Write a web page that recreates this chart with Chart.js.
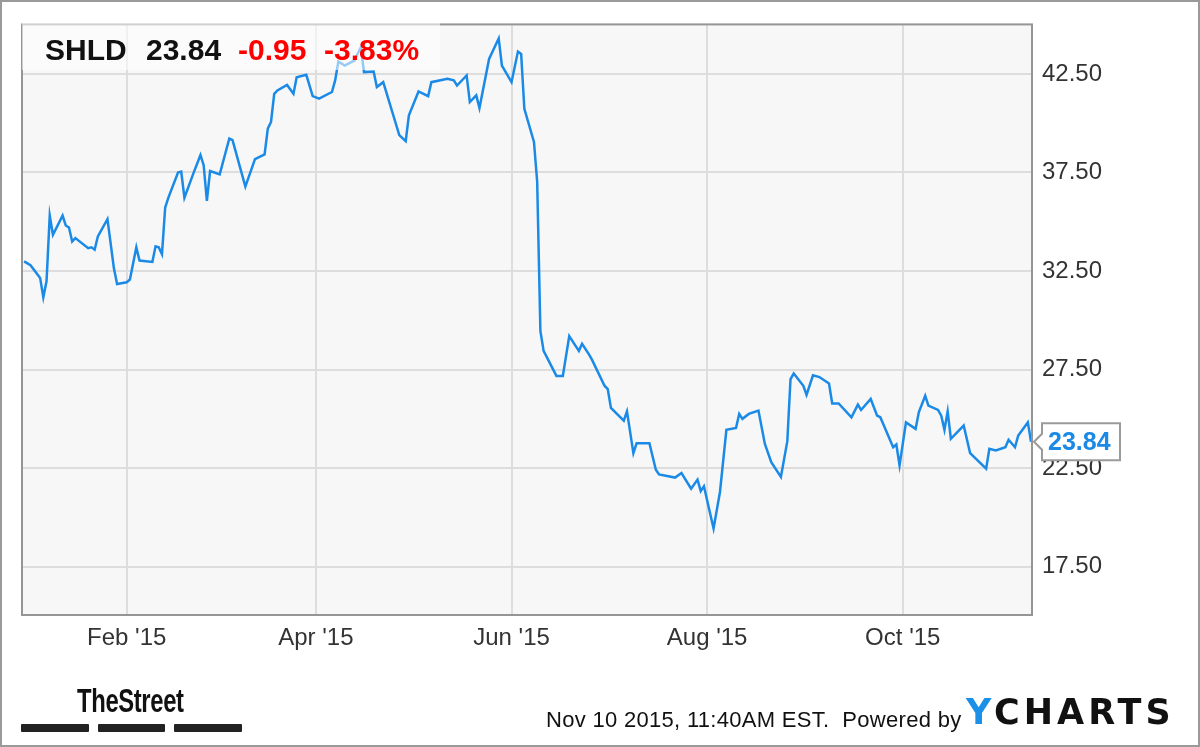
<!DOCTYPE html>
<html>
<head>
<meta charset="utf-8">
<script src="https://cdn.jsdelivr.net/npm/chart.js@4.4.0/dist/chart.umd.min.js"></script>
<style>
html,body{margin:0;padding:0;background:#fff;}
#wrap{position:relative;width:1200px;height:747px;overflow:hidden;font-family:"Liberation Sans",Arial,sans-serif;background:#fff;}
#c{position:absolute;left:0;top:0;}
.t{position:absolute;white-space:nowrap;}
.hdr{top:35px;font-size:30px;line-height:30px;font-weight:bold;color:#111;}
.red{color:#ff0000;}
#hdrbox{position:absolute;left:22px;top:22px;width:418px;height:48px;background:rgba(255,255,255,0.55);}
#frame{position:absolute;left:0;top:0;width:1200px;height:747px;box-sizing:border-box;border:2px solid #9a9a9a;}
#street{left:77px;top:683px;font-size:34px;line-height:34px;font-weight:bold;color:#111;transform:scaleX(0.7);transform-origin:0 0;letter-spacing:-0.5px;}
.bar{position:absolute;top:724px;height:8px;background:#222;border-radius:1px;}
#stamp{left:546px;top:709px;font-size:22px;line-height:22px;color:#111;letter-spacing:0.3px;}
#ych{left:966px;top:695px;font-family:"DejaVu Sans",sans-serif;font-size:35px;line-height:35px;font-weight:bold;color:#111;letter-spacing:4px;}
#ych span{color:#1c8fe8;}
</style>
</head>
<body>
<div id="wrap">
<canvas id="c" width="1200" height="747"></canvas>
<div id="hdrbox"></div>
<div class="t hdr" id="h1" style="left:45px">SHLD</div>
<div class="t hdr" id="h2" style="left:146px">23.84</div>
<div class="t hdr red" id="h3" style="left:238px">-0.95</div>
<div class="t hdr red" id="h4" style="left:324px">-3.83%</div>
<div class="t" id="street">TheStreet</div>
<div class="bar" style="left:21px;width:68px"></div>
<div class="bar" style="left:98px;width:67px"></div>
<div class="bar" style="left:174px;width:68px"></div>
<div class="t" id="stamp">Nov 10 2015, 11:40AM EST.&nbsp; Powered by</div>
<div class="t" id="ych"><span>Y</span>CHARTS</div>
<div id="frame"></div>
</div>
<script>
// Day offsets from 2015-01-01 and closing prices (SHLD)
const dayOfYear = [-1,1,4,5,6,7,8,11,12,13,14,15,19,20,21,22,25,27,28,31,32,34,35,39,40,41,42,43,44,47,48,49,52,54,55,56,57,60,63,64,68,71,74,75,76,77,78,81,83,84,87,89,91,95,96,97,99,102,104,105,108,109,111,116,118,119,122,125,126,131,133,134,137,138,140,141,144,147,148,151,153,154,155,158,159,160,161,165,167,169,172,173,175,176,180,181,182,186,187,189,190,194,196,197,202,204,207,209,210,211,214,216,218,221,222,223,225,228,230,232,235,237,238,239,242,243,245,247,250,251,253,257,259,260,263,265,266,270,271,272,274,277,278,280,281,284,285,286,287,288,292,294,299,300,302,305,306,308,309,312,313];
const prices = [32.99,32.79,32.15,31.17,31.98,35.31,34.34,35.31,34.81,34.71,34.00,34.17,33.66,33.70,33.58,34.25,35.13,32.65,31.84,31.93,32.07,33.70,33.03,32.96,33.75,33.70,33.36,35.72,36.22,37.50,37.54,36.22,37.54,38.38,37.87,36.06,37.57,37.40,39.22,39.14,36.78,38.18,38.41,39.72,40.06,41.49,41.66,41.94,41.49,42.33,42.45,41.37,41.24,41.58,42.17,43.13,42.92,43.18,43.85,42.59,42.62,41.83,42.08,39.39,39.09,40.40,41.61,41.37,42.08,42.25,42.17,41.91,42.42,41.07,41.41,40.77,43.26,44.30,42.92,42.08,43.63,43.51,40.73,39.05,37.03,29.46,28.45,27.18,27.18,29.20,28.45,28.81,28.31,28.03,26.68,26.51,25.55,24.91,25.38,23.26,23.76,23.76,22.42,22.18,22.02,22.25,21.46,21.92,21.34,21.58,19.44,21.29,24.44,24.54,25.25,25.00,25.25,25.42,23.73,22.80,22.05,23.87,27.02,27.30,26.68,26.22,27.21,27.12,26.79,25.78,25.78,25.08,25.72,25.45,26.01,25.16,25.08,23.56,23.70,22.64,24.82,24.49,25.33,26.17,25.67,25.45,25.16,24.44,25.38,23.99,24.66,23.26,22.47,23.48,23.40,23.56,23.94,23.56,24.15,24.82,23.84];
const tickDays = [31,90,151,212,273];
const tickLabels = ["Feb '15","Apr '15","Jun '15","Aug '15","Oct '15"];
const yTicks = [17.5,22.5,27.5,32.5,37.5,42.5];

const LINE = '#1a8ae6';

const deco = {
  id:'deco',
  beforeDraw(chart){
    const {ctx, chartArea:a} = chart;
    ctx.save();
    ctx.fillStyle = '#ffffff';
    ctx.fillRect(0,0,chart.width,chart.height);
    ctx.fillStyle = '#f7f7f7';
    ctx.fillRect(a.left,a.top,a.right-a.left,a.bottom-a.top);
    ctx.restore();
  },
  afterDraw(chart){
    const {ctx, chartArea:a} = chart;
    ctx.save();
    ctx.strokeStyle = '#959595';
    ctx.lineWidth = 2;
    ctx.strokeRect(a.left, a.top, a.right-a.left, a.bottom-a.top);
    // last value callout
    const last = prices[prices.length-1];
    const y = chart.scales.y.getPixelForValue(last);
    const bx = a.right + 10, bw = 78, bh = 37;
    ctx.beginPath();
    ctx.moveTo(bx, y - bh/2);
    ctx.lineTo(bx + bw, y - bh/2);
    ctx.lineTo(bx + bw, y + bh/2);
    ctx.lineTo(bx, y + bh/2);
    ctx.lineTo(bx, y + 8);
    ctx.lineTo(a.right + 2, y);
    ctx.lineTo(bx, y - 8);
    ctx.closePath();
    ctx.fillStyle = '#ffffff';
    ctx.fill();
    ctx.strokeStyle = '#9a9a9a';
    ctx.lineWidth = 2;
    ctx.stroke();
    ctx.fillStyle = LINE;
    ctx.font = 'bold 25px "Liberation Sans", Arial, sans-serif';
    ctx.textAlign = 'left';
    ctx.textBaseline = 'middle';
    ctx.fillText(last.toFixed(2), bx + 6, y + 1);
    ctx.restore();
  }
};

new Chart(document.getElementById('c').getContext('2d'), {
  type:'line',
  data:{datasets:[{
    data: dayOfYear.map((d,i)=>({x:d, y:prices[i]})),
    borderColor: LINE,
    borderWidth: 2.5,
    pointRadius: 0,
    tension: 0,
    fill: false
  }]},
  options:{
    responsive:false,
    animation:false,
    devicePixelRatio:1,
    layout:{padding:{left:22, top:22, right:0, bottom:0}},
    plugins:{legend:{display:false}, tooltip:{enabled:false}},
    scales:{
      x:{
        type:'linear', min:-1.65, max:313.3,
        afterBuildTicks:s=>{ s.ticks = tickDays.map(v=>({value:v})); },
        afterFit:s=>{ s.height = 132; },
        grid:{color:'#dddddd', lineWidth:2, drawTicks:false},
        border:{display:false},
        ticks:{autoSkip:false, maxRotation:0, padding:9, color:'#333',
          font:{family:'"Liberation Sans", Arial, sans-serif', size:24},
          callback:(v)=>tickLabels[tickDays.indexOf(v)]}
      },
      y:{
        position:'right', min:15.05, max:45.01,
        afterBuildTicks:s=>{ s.ticks = yTicks.map(v=>({value:v})); },
        afterFit:s=>{ s.width = 168; },
        grid:{color:'#dddddd', lineWidth:2, drawTicks:false},
        border:{display:false},
        ticks:{padding:10, color:'#333',
          font:{family:'"Liberation Sans", Arial, sans-serif', size:24},
          callback:(v)=>Number(v).toFixed(2)}
      }
    }
  },
  plugins:[deco]
});
</script>
</body>
</html>
